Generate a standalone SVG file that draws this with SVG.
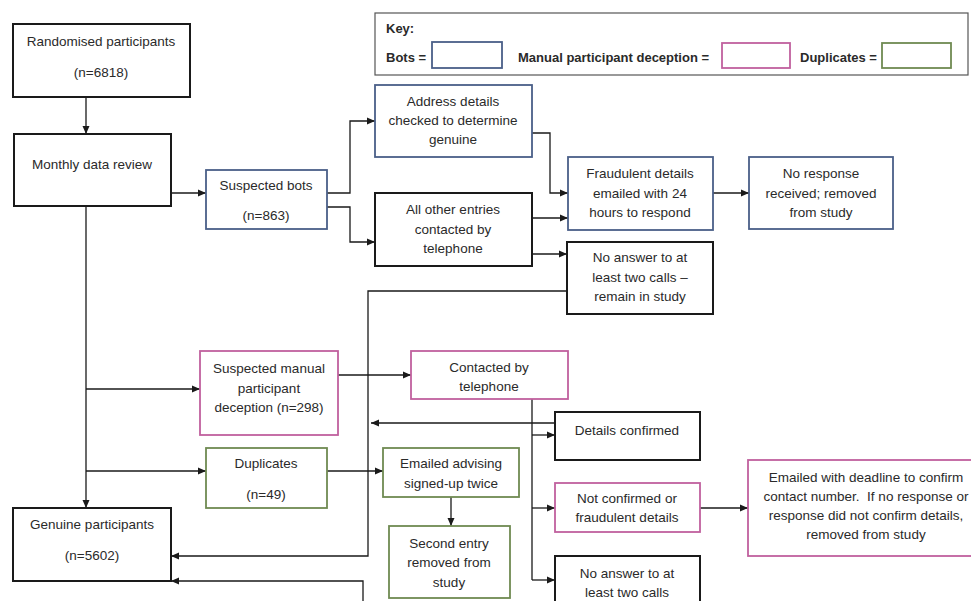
<svg xmlns="http://www.w3.org/2000/svg" width="971" height="601" viewBox="0 0 971 601">
<style>
  text { font-family: "Liberation Sans", Arial, sans-serif; font-size: 13.5px; fill: #2a2a2a; text-anchor: middle; dominant-baseline: central; }
  .key text { text-anchor: start; font-weight: bold; font-size: 13px; }
  rect { fill: #ffffff; }
  .blk { stroke: #1a1a1a; stroke-width: 2; }
  .blue { stroke: #4a5f88; stroke-width: 1.8; }
  .pink { stroke: #c0609e; stroke-width: 1.8; }
  .green { stroke: #6f8a52; stroke-width: 1.8; }
  .conn path { fill: none; stroke: #1a1a1a; stroke-width: 1.3; }
</style>
<defs>
  <marker id="ah" markerUnits="userSpaceOnUse" markerWidth="9" markerHeight="8" refX="8" refY="4" orient="auto">
    <path d="M0,0.5 L8,4 L0,7.5 Z" fill="#1a1a1a"/>
  </marker>
</defs>
<rect x="0" y="0" width="971" height="601" fill="#ffffff"/>

<g id="key" class="key">
  <rect x="375" y="13" width="593" height="62" stroke="#555" stroke-width="1.2"/>
  <text x="386" y="28">Key:</text>
  <text x="386" y="57">Bots =</text>
  <rect class="blue" x="432" y="42" width="70" height="26"/>
  <text x="518" y="57">Manual participant deception =</text>
  <rect class="pink" x="722" y="43" width="68" height="25"/>
  <text x="800" y="57">Duplicates =</text>
  <rect class="green" x="882" y="43" width="69" height="25"/>
</g>

<g class="conn" id="connectors">
  <path d="M86,97 V134" marker-end="url(#ah)"/>
  <path d="M171,193 H206" marker-end="url(#ah)"/>
  <path d="M327,193 H350 V121 H375" marker-end="url(#ah)"/>
  <path d="M327,207 H350 V242 H375" marker-end="url(#ah)"/>
  <path d="M532,133 H550 V193 H568" marker-end="url(#ah)"/>
  <path d="M532,218 H568" marker-end="url(#ah)"/>
  <path d="M713,193 H749" marker-end="url(#ah)"/>
  <path d="M532,254 H567" marker-end="url(#ah)"/>
  <path d="M567,291 H368 V556 H171" marker-end="url(#ah)"/>
  <path d="M86,206 V508" marker-end="url(#ah)"/>
  <path d="M86,389 H200" marker-end="url(#ah)"/>
  <path d="M86,471 H206" marker-end="url(#ah)"/>
  <path d="M338,375 H411" marker-end="url(#ah)"/>
  <path d="M327,471 H383" marker-end="url(#ah)"/>
  <path d="M451,497 V526" marker-end="url(#ah)"/>
  <path d="M532,399 V580"/>
  <path d="M532,435 H555" marker-end="url(#ah)"/>
  <path d="M532,508 H555" marker-end="url(#ah)"/>
  <path d="M532,580 H555" marker-end="url(#ah)"/>
  <path d="M555,423 H371" marker-end="url(#ah)"/>
  <path d="M700,508 H748" marker-end="url(#ah)"/>
  <path d="M363,601 V581 H171" marker-end="url(#ah)"/>
</g>

<g id="randomised">
  <rect class="blk" x="13" y="24" width="177" height="73"/>
  <text x="101" y="41">Randomised participants</text>
  <text x="101" y="72">(n=6818)</text>
</g>
<g id="monthly">
  <rect class="blk" x="14" y="134" width="157" height="72"/>
  <text x="92" y="164">Monthly data review</text>
</g>
<g id="bots">
  <rect class="blue" x="206" y="170" width="121" height="59"/>
  <text x="266" y="185">Suspected bots</text>
  <text x="266" y="215">(n=863)</text>
</g>
<g id="address">
  <rect class="blue" x="375" y="85" width="157" height="72"/>
  <text x="453" y="101">Address details</text>
  <text x="453" y="120">checked to determine</text>
  <text x="453" y="139">genuine</text>
</g>
<g id="allother">
  <rect class="blk" x="375" y="193" width="157" height="73"/>
  <text x="453" y="209">All other entries</text>
  <text x="453" y="229">contacted by</text>
  <text x="453" y="248">telephone</text>
</g>
<g id="fraudulent">
  <rect class="blue" x="568" y="157" width="145" height="73"/>
  <text x="640" y="173">Fraudulent details</text>
  <text x="640" y="193">emailed with 24</text>
  <text x="640" y="212">hours to respond</text>
</g>
<g id="noresponse">
  <rect class="blue" x="749" y="157" width="144" height="72"/>
  <text x="821" y="173">No response</text>
  <text x="821" y="193">received; removed</text>
  <text x="821" y="212">from study</text>
</g>
<g id="noanswer1">
  <rect class="blk" x="567" y="242" width="146" height="72"/>
  <text x="640" y="257">No answer to at</text>
  <text x="640" y="277">least two calls –</text>
  <text x="640" y="296">remain in study</text>
</g>
<g id="manual">
  <rect class="pink" x="200" y="351" width="138" height="84"/>
  <text x="269" y="368">Suspected manual</text>
  <text x="269" y="388">participant</text>
  <text x="269" y="407">deception (n=298)</text>
</g>
<g id="contacted">
  <rect class="pink" x="411" y="351" width="157" height="48"/>
  <text x="489" y="367">Contacted by</text>
  <text x="489" y="386">telephone</text>
</g>
<g id="confirmed">
  <rect class="blk" x="555" y="412" width="145" height="48"/>
  <text x="627" y="430">Details confirmed</text>
</g>
<g id="duplicates">
  <rect class="green" x="206" y="448" width="121" height="60"/>
  <text x="266" y="463">Duplicates</text>
  <text x="266" y="494">(n=49)</text>
</g>
<g id="advising">
  <rect class="green" x="383" y="448" width="136" height="49"/>
  <text x="451" y="463">Emailed advising</text>
  <text x="451" y="483">signed-up twice</text>
</g>
<g id="second">
  <rect class="green" x="389" y="526" width="121" height="72"/>
  <text x="449" y="543">Second entry</text>
  <text x="449" y="562">removed from</text>
  <text x="449" y="582">study</text>
</g>
<g id="genuine">
  <rect class="blk" x="13" y="508" width="158" height="73"/>
  <text x="92" y="524">Genuine participants</text>
  <text x="92" y="555">(n=5602)</text>
</g>
<g id="notconfirmed">
  <rect class="pink" x="555" y="483" width="145" height="49"/>
  <text x="627" y="498">Not confirmed or</text>
  <text x="627" y="517">fraudulent details</text>
</g>
<g id="deadline">
  <rect class="pink" x="748" y="460" width="237" height="96"/>
  <text x="866" y="477">Emailed with deadline to confirm</text>
  <text x="866" y="496">contact number.&#160; If no response or</text>
  <text x="866" y="515">response did not confirm details,</text>
  <text x="866" y="534">removed from study</text>
</g>
<g id="noanswer2">
  <rect class="blk" x="555" y="556" width="145" height="60"/>
  <text x="627" y="573">No answer to at</text>
  <text x="627" y="592">least two calls</text>
</g>
</svg>
